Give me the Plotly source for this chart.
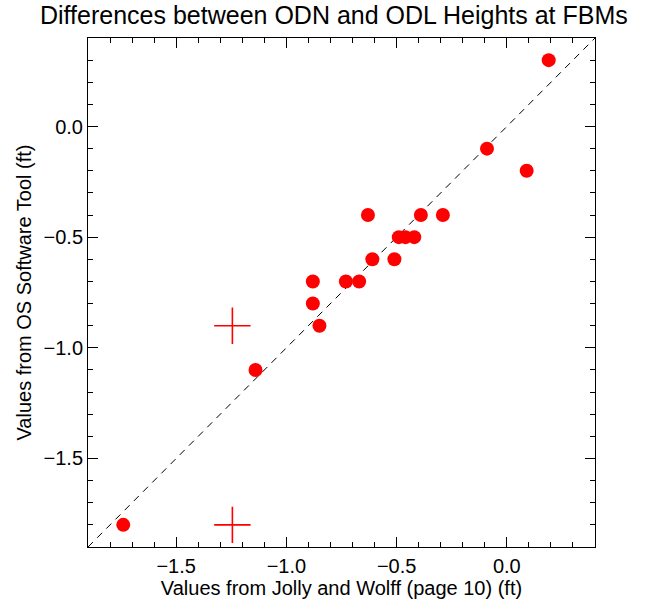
import plotly.graph_objects as go

# Data
circle_x = [0.19, -0.09, 0.09, -0.63, -0.39, -0.29, -0.49, -0.46, -0.42,
            -0.61, -0.51, -0.73, -0.67, -0.88, -0.88, -0.85, -1.14, -1.74]
circle_y = [0.30, -0.10, -0.20, -0.40, -0.40, -0.40, -0.50, -0.50, -0.50,
            -0.60, -0.60, -0.70, -0.70, -0.70, -0.80, -0.90, -1.10, -1.80]
cross_x = [-1.245, -1.245]
cross_y = [-0.90, -1.80]
line_x = [-1.9, 0.4]
line_y = [-1.9, 0.4]

FONT = "Liberation Sans, Arial, Helvetica, sans-serif"

fig = go.Figure()
fig.add_trace(go.Scatter(x=line_x, y=line_y, mode="lines",
                         line=dict(color="black", width=1, dash="7px,6px"),
                         showlegend=False, hoverinfo="skip"))
fig.add_trace(go.Scatter(x=circle_x, y=circle_y, mode="markers",
                         marker=dict(symbol="circle", size=14, color="#ff0000",
                                     line=dict(width=0)),
                         showlegend=False))
fig.add_trace(go.Scatter(x=cross_x, y=cross_y, mode="markers",
                         marker=dict(symbol="cross-thin-open", size=26, color="#ff0000",
                                     line=dict(width=1.6, color="#ff0000")),
                         showlegend=False))

axis_common = dict(
    range=[-1.9, 0.4], dtick=0.5, tick0=0, tickformat=".1f",
    ticks="inside", ticklen=10, tickwidth=1, tickcolor="black",
    minor=dict(ticks="inside", ticklen=5, dtick=0.1, tick0=0, tickcolor="black", tickwidth=1),
    showline=True, linecolor="black", linewidth=1, mirror="ticks",
    showgrid=False, zeroline=False, automargin=False,
    tickfont=dict(size=20, color="black", family=FONT),
)

fig.update_layout(
    width=664, height=602,
    margin=dict(l=88, r=69, t=38, b=55),
    plot_bgcolor="white", paper_bgcolor="white",
    title=dict(text="Differences between ODN and ODL Heights at FBMs",
               x=40 / 664, xanchor="left", y=0.99, yanchor="top",
               automargin=False,
               font=dict(size=25, color="black", family=FONT)),
    xaxis=dict(**axis_common, ticklabelstandoff=1,
               title=dict(text="Values from Jolly and Wolff (page 10) (ft)",
                          font=dict(size=20, color="black", family=FONT), standoff=2)),
    yaxis=dict(**axis_common, ticklabelstandoff=0,
               title=dict(text="Values from OS Software Tool (ft)",
                          font=dict(size=20, color="black", family=FONT), standoff=6)),
)

fig.write_html("out.html")
